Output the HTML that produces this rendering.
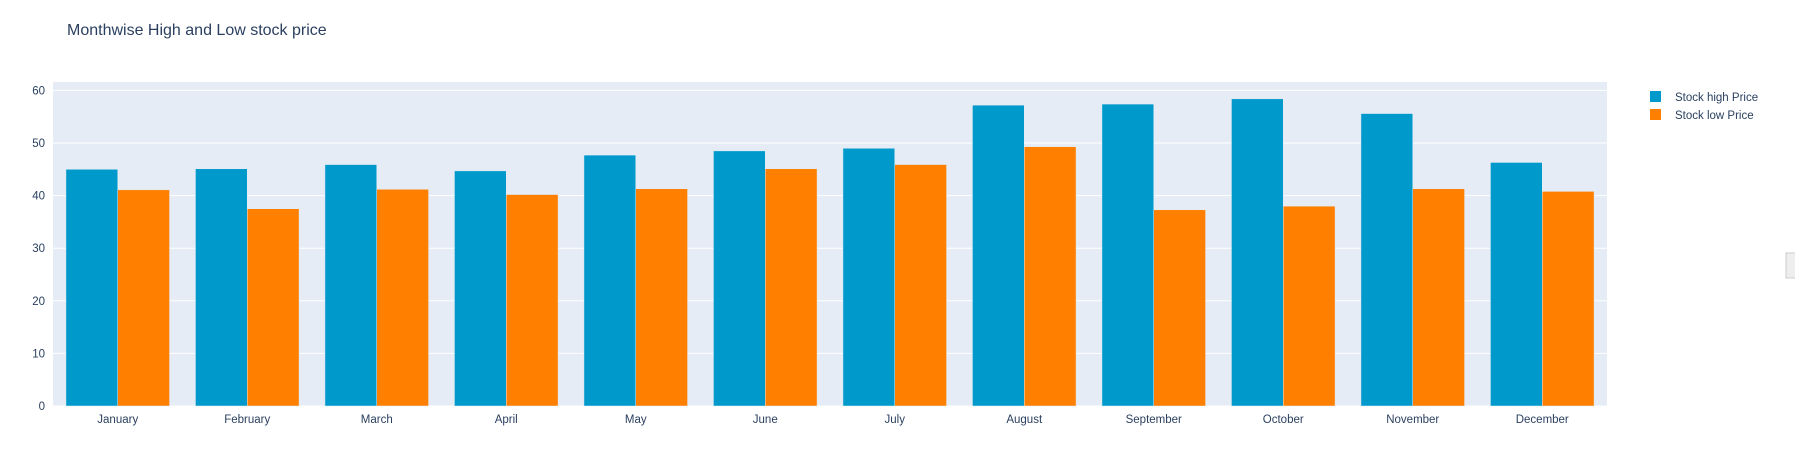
<!DOCTYPE html>
<html><head><meta charset="utf-8"><style>
body{margin:0;background:#fff;width:1795px;height:457px;overflow:hidden;font-family:"Liberation Sans",sans-serif}
</style></head><body>
<svg id="chart" width="1795" height="457" xmlns="http://www.w3.org/2000/svg">
<text x="67" y="35" font-size="16" fill="#2a3f5f">Monthwise High and Low stock price</text>
<rect x="53" y="82" width="1554" height="324" fill="#e5ecf6"/>
<g id="grid"></g><g id="bars"></g><g id="xlabels"></g><g id="ylabels"></g>
<g>
<rect x="1650" y="91" width="11" height="11" fill="#0099cc"/>
<text x="1675" y="101" font-size="11.5" fill="#2a3f5f">Stock high Price</text>
<rect x="1650" y="109" width="11" height="11" fill="#ff7f00"/>
<text x="1675" y="119" font-size="11.5" fill="#2a3f5f">Stock low Price</text>
</g>
<rect x="1786" y="253" width="10" height="25" fill="#eee" stroke="#ccc"/>
</svg>
<script>
const months=["January","February","March","April","May","June","July","August","September","October","November","December"];
const highValues=[45.0,45.1,45.9,44.7,47.7,48.5,49.0,57.2,57.4,58.4,55.6,46.3];
const lowValues=[41.1,37.5,41.2,40.2,41.3,45.1,45.9,49.3,37.3,38.0,41.3,40.8];
const yTicks=[0,10,20,30,40,50,60];
const NS="http://www.w3.org/2000/svg";
const L=53,R=1607,Y0=406,PX=5.26;
const step=(R-L)/months.length, bw=step*0.8/2;
const y=v=>Y0-v*PX;
function mk(tag,attrs,parent){const e=document.createElementNS(NS,tag);for(const k in attrs)e.setAttribute(k,attrs[k]);document.getElementById(parent).appendChild(e);return e;}
yTicks.forEach(t=>{
 const g=mk("line",{x1:L,x2:R,y1:y(t),y2:y(t),stroke:"#fff","stroke-width":1},"grid");
 
 
 const tx=mk("text",{x:L-8,y:y(t)+4,"font-size":11.5,fill:"#2a3f5f","text-anchor":"end"},"ylabels");
 tx.textContent=t;
 
 
});
months.forEach((m,i)=>{
 const c=L+step*(i+0.5);
 const h=mk("rect",{x:c-bw,y:y(highValues[i]),width:bw,height:highValues[i]*PX,fill:"#0099cc",stroke:"#e5ecf6","stroke-width":0.5},"bars");
 
 
 const l=mk("rect",{x:c,y:y(lowValues[i]),width:bw,height:lowValues[i]*PX,fill:"#ff7f00",stroke:"#e5ecf6","stroke-width":0.5},"bars");
 
 
 const tx=mk("text",{x:c,y:Y0+17,"font-size":11.5,fill:"#2a3f5f","text-anchor":"middle"},"xlabels");
 tx.textContent=m;
 
 
});
</script>
</body></html>
